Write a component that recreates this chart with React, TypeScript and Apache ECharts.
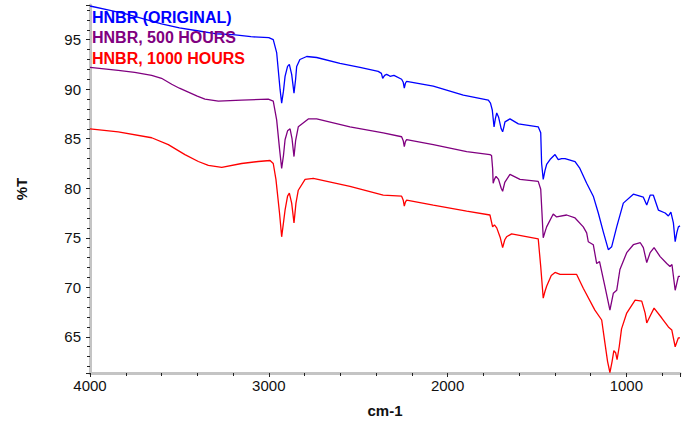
import React, { useEffect, useRef } from "react";
import * as echarts from "echarts";

// Wavenumbers (cm-1) and %T values
const originalWn = [4000, 3900, 3800, 3700, 3600, 3500, 3400, 3300, 3200, 3100, 3000, 2975, 2956, 2937, 2928, 2918, 2909, 2895, 2885, 2872, 2859, 2850, 2844, 2826, 2788, 2732, 2602, 2490, 2388, 2370, 2363, 2352, 2341, 2330, 2322, 2300, 2257, 2248, 2242, 2236, 2229, 2080, 1912, 1772, 1760, 1750, 1740, 1733, 1725, 1715, 1700, 1692, 1685, 1679, 1651, 1604, 1493, 1479, 1474, 1465, 1455, 1446, 1427, 1399, 1381, 1362, 1343, 1287, 1260, 1222, 1185, 1157, 1129, 1101, 1082, 1054, 1017, 961, 905, 886, 867, 849, 821, 783, 765, 751, 737, 727, 718, 709, 700];
const originalT = [98.4, 98.0, 97.6, 97.1, 96.6, 96.2, 95.9, 95.6, 95.5, 95.3, 95.2, 95.0, 93.7, 90.0, 88.6, 89.8, 91.3, 92.3, 92.5, 91.5, 89.6, 91.0, 92.3, 93.0, 93.3, 93.2, 92.6, 92.2, 91.8, 91.6, 91.1, 91.4, 91.5, 91.4, 91.3, 91.4, 91.0, 90.7, 90.1, 90.6, 90.8, 90.3, 89.4, 88.9, 88.6, 87.9, 86.2, 87.0, 87.6, 87.2, 86.0, 85.7, 86.2, 86.7, 87.0, 86.5, 86.2, 85.6, 82.5, 80.9, 81.8, 82.4, 82.9, 83.4, 82.9, 83.0, 83.0, 82.7, 82.0, 80.5, 79.2, 77.5, 75.6, 73.8, 74.1, 76.1, 78.5, 79.4, 79.1, 78.3, 79.3, 79.3, 77.8, 77.5, 77.2, 77.6, 76.5, 74.6, 75.5, 76.1, 76.2];

const h500Wn = [4000, 3842, 3750, 3655, 3600, 3543, 3500, 3450, 3400, 3357, 3282, 3152, 3003, 2975, 2956, 2940, 2928, 2918, 2909, 2895, 2881, 2870, 2859, 2850, 2835, 2779, 2732, 2546, 2360, 2257, 2248, 2242, 2236, 2229, 2080, 1893, 1763, 1754, 1748, 1745, 1738, 1729, 1715, 1700, 1692, 1680, 1651, 1595, 1493, 1479, 1472, 1465, 1455, 1446, 1409, 1390, 1334, 1287, 1241, 1222, 1213, 1185, 1166, 1150, 1120, 1092, 1073, 1054, 1036, 998, 961, 922, 905, 886, 867, 845, 811, 774, 756, 745, 727, 709, 700];
const h500T = [92.2, 91.9, 91.7, 91.4, 91.1, 90.5, 90.1, 89.7, 89.3, 89.0, 88.8, 88.9, 89.0, 88.8, 86.9, 84.0, 82.0, 83.3, 84.9, 85.8, 86.0, 85.0, 83.2, 84.8, 86.2, 87.0, 87.0, 86.2, 85.6, 85.2, 84.8, 84.2, 84.7, 84.9, 84.4, 83.7, 83.4, 83.3, 82.0, 80.5, 80.9, 81.2, 80.9, 80.0, 79.7, 80.6, 81.4, 80.9, 80.7, 79.9, 77.5, 75.0, 75.6, 76.1, 77.4, 77.1, 77.3, 77.0, 76.1, 75.5, 74.6, 74.3, 72.4, 72.6, 70.1, 67.7, 69.4, 69.7, 71.8, 73.5, 74.3, 74.5, 74.0, 72.5, 73.5, 74.0, 73.1, 72.4, 72.1, 72.3, 69.7, 71.1, 71.1];

const h1000Wn = [4000, 3842, 3655, 3562, 3469, 3394, 3338, 3263, 3152, 3059, 2993, 2975, 2960, 2940, 2928, 2918, 2909, 2895, 2885, 2872, 2859, 2848, 2835, 2797, 2751, 2546, 2360, 2257, 2248, 2242, 2236, 2229, 2080, 1893, 1763, 1748, 1738, 1725, 1705, 1692, 1680, 1670, 1642, 1493, 1479, 1465, 1455, 1446, 1420, 1399, 1371, 1278, 1241, 1176, 1138, 1120, 1105, 1092, 1080, 1070, 1060, 1052, 1040, 1027, 998, 951, 914, 895, 886, 867, 845, 802, 765, 746, 727, 709, 700];
const h1000T = [86.0, 85.7, 85.1, 84.4, 83.4, 82.7, 82.3, 82.1, 82.5, 82.7, 82.8, 82.5, 80.9, 77.5, 75.1, 76.5, 77.8, 79.2, 79.5, 78.5, 76.5, 78.5, 79.8, 80.9, 81.0, 80.2, 79.3, 79.2, 78.8, 78.2, 78.6, 78.8, 78.3, 77.7, 77.3, 76.1, 76.3, 76.0, 75.0, 74.0, 74.8, 75.1, 75.4, 74.9, 72.1, 68.9, 69.6, 70.1, 71.2, 71.5, 71.3, 71.3, 69.9, 67.7, 66.7, 64.4, 62.5, 61.4, 62.5, 63.6, 63.4, 62.7, 64.0, 65.8, 67.4, 68.7, 68.6, 67.4, 66.4, 67.1, 67.9, 66.9, 66.0, 65.7, 64.0, 64.9, 64.9];

const seriesNames = ["HNBR (ORIGINAL)", "HNBR, 500 HOURS", "HNBR, 1000 HOURS"];
const seriesColors = ["#0000ff", "#800080", "#ff0000"];
const seriesWn = [originalWn, h500Wn, h1000Wn];
const seriesT = [originalT, h500T, h1000T];

const xName = "cm-1";
const yName = "%T";

const FONT = "'Liberation Sans', Arial, sans-serif";

export default function App() {
  const ref = useRef<HTMLDivElement>(null);
  useEffect(() => {
    if (!ref.current) return;
    const chart = echarts.init(ref.current, null, { renderer: "svg" });
    const series = seriesNames.map((name, i) => ({
      name,
      type: "line",
      data: seriesWn[i].map((w, j) => [w, seriesT[i][j]]),
      showSymbol: false,
      symbol: "none",
      lineStyle: { color: seriesColors[i], width: 1.3 },
      itemStyle: { color: seriesColors[i] },
      z: 3 - i,
    }));
    const axisCommon = {
      axisLine: { show: true, lineStyle: { color: "#c4c4c4", width: 3 } },
      axisTick: { show: true, length: 4, lineStyle: { color: "#222", width: 1 } },
      minorTick: { show: true, splitNumber: 5, length: 3, lineStyle: { color: "#222", width: 1 } },
      splitLine: { show: false },
    };
    chart.setOption({
      animation: false,
      grid: { left: 90, right: 8, top: 5, bottom: 49 },
      xAxis: {
        type: "value",
        inverse: true,
        min: 700,
        max: 4000,
        splitNumber: 3,
        ...axisCommon,
        axisLabel: {
          color: "#111",
          fontSize: 15,
          fontFamily: FONT,
          margin: 5,
          formatter: (v: number) => (v % 1000 === 0 ? String(v) : ""),
        },
      },
      yAxis: {
        type: "value",
        min: 61.35,
        max: 98.5,
        splitNumber: 7,
        ...axisCommon,
        axisLabel: {
          color: "#111",
          fontSize: 15,
          fontFamily: FONT,
          margin: 9,
          formatter: (v: number) => (Math.abs(v % 5) < 1e-9 ? String(v) : ""),
        },
      },
      graphic: [
        ...seriesNames.map((name, i) => ({
          type: "text",
          left: 92,
          top: 9 + i * 20.5,
          style: {
            text: name,
            fill: seriesColors[i],
            font: `bold 16px ${FONT}`,
          },
          z: 10,
        })),
        {
          type: "text",
          x: 385,
          y: 410,
          style: {
            text: xName,
            fill: "#111",
            font: `bold 15px ${FONT}`,
            textAlign: "center",
            textVerticalAlign: "middle",
          },
        },
        {
          type: "text",
          x: 21,
          y: 189,
          rotation: Math.PI / 2,
          style: {
            text: yName,
            fill: "#111",
            font: `bold 15px ${FONT}`,
            textAlign: "center",
            textVerticalAlign: "middle",
          },
        },
      ],
      series,
    });
    return () => chart.dispose();
  }, []);
  return (
    <div
      ref={ref}
      style={{ position: "absolute", left: 0, top: 0, width: 688, height: 422 }}
    />
  );
}
